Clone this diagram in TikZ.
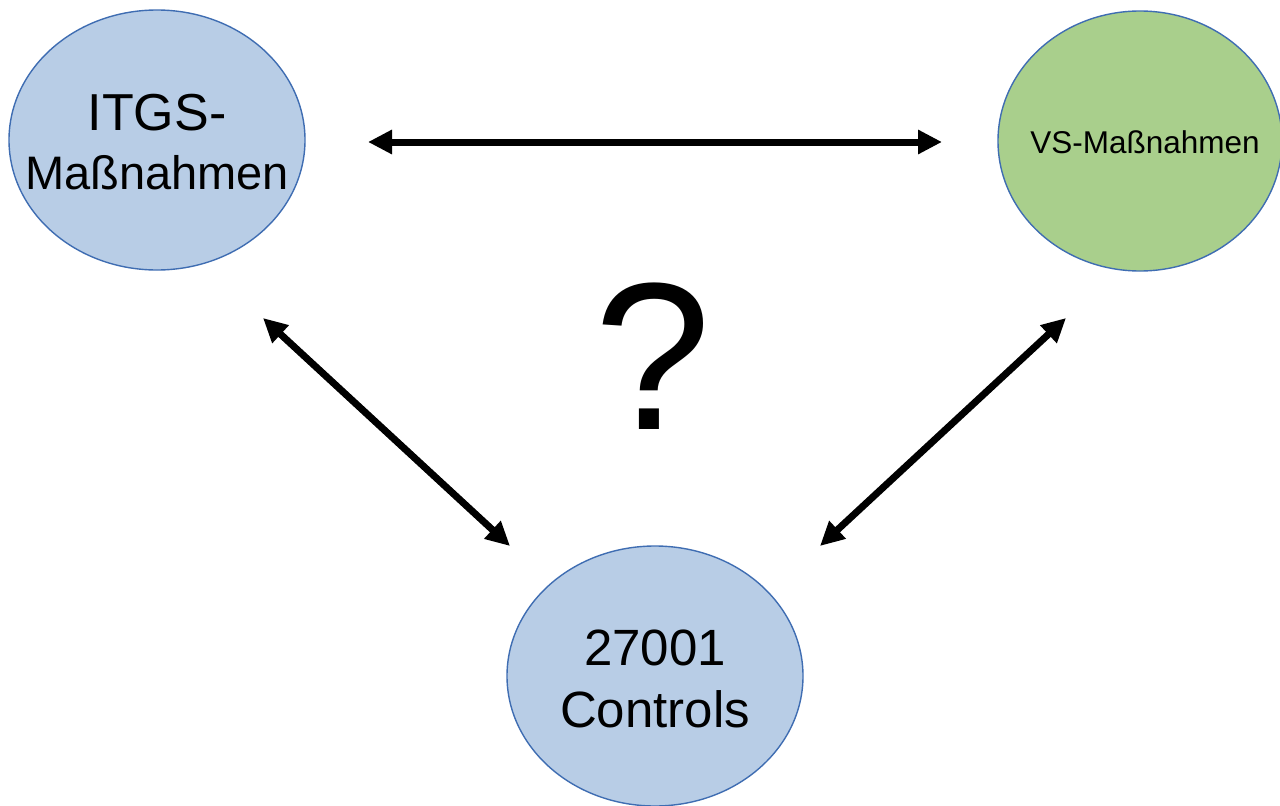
\documentclass[tikz,border=0pt]{standalone}
\usepackage{fontspec}
\setmainfont{Liberation Sans}
\usetikzlibrary{shapes.geometric,arrows.meta}
\definecolor{ellblue}{HTML}{B8CDE6}
\definecolor{ellgreen}{HTML}{A9CF8C}
\definecolor{rimblue}{HTML}{3F6DB2}
\tikzset{
  oval/.style={ellipse, draw=rimblue, line width=1.4pt, inner sep=0pt,
    minimum width=296pt, minimum height=260pt},
  blueoval/.style={oval, fill=ellblue},
  greenoval/.style={oval, fill=ellgreen},
  ovaltext/.style={align=center, text=black, inner sep=0pt},
  link/.style={line width=7pt, black,
    {Triangle[length=24pt,width=23pt]}-{Triangle[length=24pt,width=23pt]}}
}
\begin{document}
\begin{tikzpicture}[x=1pt,y=-1pt]
\useasboundingbox (0,0) rectangle (1280,806);

% the three groups of measures
\node[blueoval] (itgs) at (157,140) {};
\node[ovaltext, font=\fontsize{52}{59}\selectfont] (itgstxt) at (157,142)
  {ITGS-\\\fontsize{47}{59}\selectfont Maßnahmen};
\node[greenoval, minimum width=284pt] (vs) at (1140,141) {};
\node[ovaltext, font=\fontsize{31.5}{38}\selectfont] (vstxt) at (1145,142)
  {VS-Maßnahmen};
\node[blueoval] (iso) at (655,676) {};
\node[ovaltext, font=\fontsize{51}{62}\selectfont] (isotxt) at (655,679)
  {27001\\Controls};

% open question in the middle
\node[inner sep=0pt, font=\fontsize{210}{220}\selectfont] (q) at (653,356) {?};

% arrow ends
\coordinate (a1) at (368,142);
\coordinate (a2) at (942,142);
\coordinate (b1) at (263,318);
\coordinate (b2) at (510,546);
\coordinate (c1) at (1066,318);
\coordinate (c2) at (820,546);

\draw[link] (a1) -- (a2);
\draw[link] (b1) -- (b2);
\draw[link] (c1) -- (c2);
\end{tikzpicture}
\end{document}
